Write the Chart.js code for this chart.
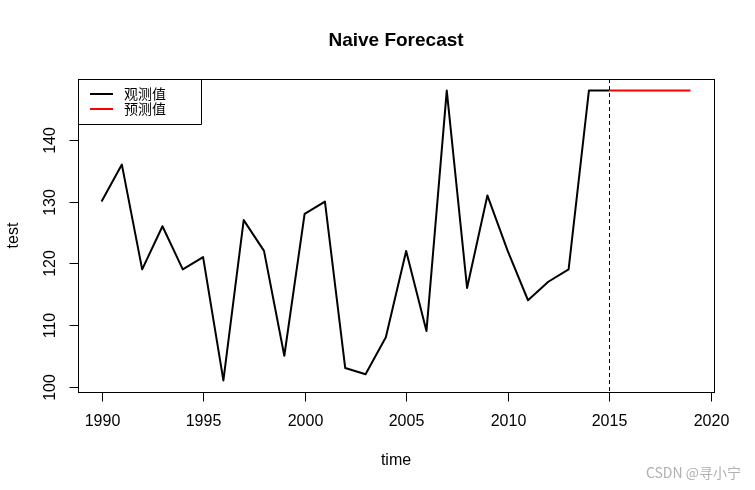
<!DOCTYPE html>
<html>
<head>
<meta charset="utf-8">
<script src="https://cdn.jsdelivr.net/npm/chart.js@4"></script>
<style>
  html, body { margin: 0; padding: 0; background: #fff; }
  canvas { display: block; }
</style>
</head>
<body>
<canvas id="naiveChart" width="755" height="490"></canvas>
<script>
// observed series
const years = [1990, 1991, 1992, 1993, 1994, 1995, 1996, 1997, 1998, 1999,
               2000, 2001, 2002, 2003, 2004, 2005, 2006, 2007, 2008, 2009,
               2010, 2011, 2012, 2013, 2014, 2015];
const observed = [130, 136, 119, 126, 119, 121, 101, 127, 122, 105,
                  128, 130, 103, 102, 108, 122, 109, 148, 116, 131,
                  122, 114, 117, 119, 148, 148];

// naive forecast
const forecastYears = [2015, 2016, 2017, 2018, 2019];
const forecastValues = [148, 148, 148, 148, 148];

// axis ticks
const xTicks = [1990, 1995, 2000, 2005, 2010, 2015, 2020];
const yTicks = [100, 110, 120, 130, 140];

const seriesNames = ['观测值', '预测值'];
const seriesColors = ['#000000', '#ff0000'];
const splitYear = 2015;

const FONT = '"Liberation Sans", Arial, sans-serif';
const CJK = '"Noto Sans CJK SC", sans-serif';

// R style: range extended by 4% on each side
let pad = (lo, hi) => {
    let d = (hi - lo) * 0.04;
    return [lo - d, hi + d];
};
const allY = observed.concat(forecastValues);
const [xMin, xMax] = pad(Math.min(...years), Math.max(...forecastYears));
const [yMin, yMax] = pad(Math.min(...allY), Math.max(...allY));

let toPoints = (xs, ys) => xs.map((x, i) => ({x: x, y: ys[i]}));

// base graphics look: box, ticks, labels, title, legend
const rPlot = {
    id: 'rPlot',
    afterDatasetsDraw(chart) {
        const ctx = chart.ctx;
        const area = chart.chartArea;
        const xs = chart.scales.x;
        const ys = chart.scales.y;
        ctx.save();

        // dashed split line
        let sx = Math.round(xs.getPixelForValue(splitYear)) + 0.5;
        ctx.strokeStyle = '#000';
        ctx.lineWidth = 1;
        ctx.setLineDash([4, 3]);
        ctx.beginPath();
        ctx.moveTo(sx, area.top);
        ctx.lineTo(sx, area.bottom);
        ctx.stroke();
        ctx.setLineDash([]);

        // box
        ctx.strokeRect(Math.round(area.left) + 0.5, Math.round(area.top) + 0.5,
                       Math.round(area.right - area.left), Math.round(area.bottom - area.top));

        // x axis
        let by = Math.round(area.bottom) + 0.5;
        ctx.beginPath();
        ctx.moveTo(xs.getPixelForValue(xTicks[0]), by);
        ctx.lineTo(xs.getPixelForValue(xTicks[xTicks.length - 1]), by);
        ctx.fillStyle = '#000';
        ctx.font = '16px ' + FONT;
        ctx.textAlign = 'center';
        ctx.textBaseline = 'middle';
        xTicks.forEach(t => {
            let px = Math.round(xs.getPixelForValue(t)) + 0.5;
            ctx.moveTo(px, by);
            ctx.lineTo(px, by + 9);
            ctx.fillText(String(t), px, area.bottom + 30);
        });
        ctx.stroke();

        // y axis
        let lx = Math.round(area.left) + 0.5;
        ctx.beginPath();
        ctx.moveTo(lx, ys.getPixelForValue(yTicks[0]));
        ctx.lineTo(lx, ys.getPixelForValue(yTicks[yTicks.length - 1]));
        yTicks.forEach(t => {
            let py = Math.round(ys.getPixelForValue(t)) + 0.5;
            ctx.moveTo(lx, py);
            ctx.lineTo(lx - 9, py);
            ctx.save();
            ctx.translate(area.left - 27, py);
            ctx.rotate(-Math.PI / 2);
            ctx.fillText(String(t), 0, 0);
            ctx.restore();
        });
        ctx.stroke();

        // axis titles
        ctx.fillText('time', (area.left + area.right) / 2, area.bottom + 69);
        ctx.save();
        ctx.translate(area.left - 64, (area.top + area.bottom) / 2);
        ctx.rotate(-Math.PI / 2);
        ctx.fillText('test', 0, 0);
        ctx.restore();

        // main title
        ctx.font = 'bold 19px ' + FONT;
        ctx.fillText('Naive Forecast', (area.left + area.right) / 2, 41);

        // legend, top left inside the box
        ctx.beginPath();
        ctx.rect(lx, Math.round(area.top) + 0.5, 123, 45);
        ctx.stroke();
        ctx.font = '14px ' + CJK;
        ctx.textAlign = 'left';
        seriesNames.forEach((name, i) => {
            let ly = area.top + 15 + i * 15;
            ctx.strokeStyle = seriesColors[i];
            ctx.lineWidth = 2;
            ctx.beginPath();
            ctx.moveTo(area.left + 12, ly);
            ctx.lineTo(area.left + 35, ly);
            ctx.stroke();
            ctx.fillStyle = '#000';
            ctx.fillText(name, area.left + 46, ly);
        });

        // watermark
        ctx.font = '14px ' + CJK;
        ctx.fillStyle = '#b0b0b0';
        ctx.textAlign = 'right';
        ctx.fillText('CSDN @寻小宁', 741, 473);

        ctx.restore();
    }
};

let naiveChart = new Chart(document.getElementById('naiveChart').getContext('2d'), {
    type: 'line',
    data: {
        datasets: [{
            label: seriesNames[0],
            data: toPoints(years, observed),
            borderColor: seriesColors[0],
            borderWidth: 2,
            pointRadius: 0,
            tension: 0,
            borderJoinStyle: 'round',
            fill: false,
        }, {
            label: seriesNames[1],
            data: toPoints(forecastYears, forecastValues),
            borderColor: seriesColors[1],
            borderWidth: 2,
            pointRadius: 0,
            tension: 0,
            fill: false,
        }]
    },
    options: {
        responsive: false,
        animation: false,
        devicePixelRatio: 1,
        layout: {
            padding: {left: 78, right: 41, top: 79, bottom: 98}
        },
        plugins: {
            legend: {display: false},
            title: {display: false},
            tooltip: {enabled: false},
        },
        scales: {
            x: {
                type: 'linear',
                display: false,
                min: xMin,
                max: xMax,
            },
            y: {
                type: 'linear',
                display: false,
                min: yMin,
                max: yMax,
            }
        }
    },
    plugins: [rPlot]
});
</script>
</body>
</html>
